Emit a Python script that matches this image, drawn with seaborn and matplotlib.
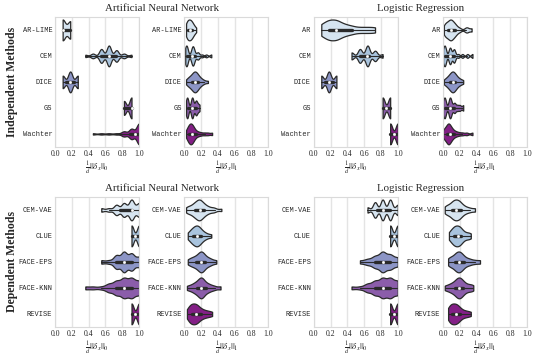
import numpy as np
import matplotlib
matplotlib.use("Agg")
import matplotlib.pyplot as plt
import seaborn as sns

# method names per block
ann_ind_names = ["AR-LIME", "CEM", "DICE", "GS", "Wachter"]
lr_ind_names = ["AR", "CEM", "DICE", "GS", "Wachter"]
dep_names = ["CEM-VAE", "CLUE", "FACE-EPS", "FACE-KNN", "REVISE"]
model_titles = ["Artificial Neural Network", "Logistic Regression"]
row_titles = ["Independent Methods", "Dependent Methods"]

# samples (l0 is fraction of changed features, d=11)
ann_l0_ind = [
    [0.09, 0.09, 0.09, 0.09, 0.09, 0.09, 0.18, 0.18, 0.18, 0.18, 0.18],
    [0.36, 0.45, 0.45, 0.55, 0.55, 0.55, 0.55, 0.55, 0.55, 0.64, 0.64, 0.64, 0.64, 0.64,
     0.64, 0.64, 0.64, 0.64, 0.73, 0.73, 0.73, 0.73, 0.73, 0.82, 0.82, 0.91],
    [0.09, 0.09, 0.09, 0.18, 0.18, 0.18, 0.18, 0.18, 0.27, 0.27, 0.27],
    [0.82, 0.82, 0.82, 0.82, 0.91, 0.91, 0.91, 0.91, 0.91, 0.91],
    [0.45, 0.55, 0.64, 0.73, 0.82, 0.82, 0.82, 0.82, 0.91, 0.91, 0.91, 0.91, 0.91, 0.91,
     0.91, 0.91, 1.0, 1.0, 1.0, 1.0, 1.0, 1.0, 1.0, 1.0, 1.0, 1.0, 1.0, 1.0, 1.0, 1.0, 1.0, 1.0],
]
ann_l1_ind = [
    [0.02, 0.02, 0.03, 0.03, 0.04, 0.04, 0.05, 0.05, 0.06, 0.06, 0.07, 0.07, 0.08, 0.08,
     0.09, 0.09, 0.10, 0.11, 0.12, 0.14],
    [0.01, 0.01, 0.02, 0.02, 0.02, 0.03, 0.03, 0.03, 0.04, 0.08, 0.09, 0.09, 0.10, 0.10,
     0.10, 0.11, 0.11, 0.12, 0.15, 0.16, 0.17, 0.21, 0.26, 0.32],
    [0.02, 0.04, 0.05, 0.06, 0.07, 0.08, 0.09, 0.10, 0.10, 0.11, 0.11, 0.12, 0.12, 0.13,
     0.13, 0.14, 0.14, 0.15, 0.15, 0.16, 0.17, 0.18, 0.19, 0.21, 0.23, 0.28],
    [0.02, 0.03, 0.03, 0.04, 0.04, 0.08, 0.09, 0.09, 0.10, 0.10, 0.13, 0.14, 0.14, 0.16, 0.18],
    [0.02, 0.03, 0.04, 0.05, 0.05, 0.06, 0.06, 0.07, 0.07, 0.08, 0.08, 0.09, 0.09, 0.10,
     0.10, 0.11, 0.12, 0.13, 0.15, 0.17, 0.20, 0.24, 0.28, 0.33],
]
lr_l0_ind = [
    [0.09, 0.09, 0.09, 0.09, 0.18, 0.18, 0.18, 0.18, 0.18, 0.18, 0.18, 0.27, 0.27, 0.27,
     0.27, 0.27, 0.27, 0.27, 0.36, 0.36, 0.36, 0.36, 0.45, 0.45, 0.45, 0.55, 0.55, 0.64,
     0.64, 0.73, 0.73],
    [0.45, 0.45, 0.55, 0.55, 0.55, 0.55, 0.64, 0.64, 0.64, 0.64, 0.64, 0.64, 0.73, 0.73, 0.73, 0.82],
    [0.09, 0.09, 0.09, 0.18, 0.18, 0.18, 0.18, 0.18, 0.27, 0.27, 0.27],
    [0.82, 0.82, 0.82, 0.82, 0.82, 0.91, 0.91, 0.91, 0.91, 0.91],
    [0.91, 0.91, 0.91, 0.91, 0.91, 1.0, 1.0, 1.0, 1.0, 1.0],
]
lr_l1_ind = [
    [0.01, 0.02, 0.03, 0.04, 0.05, 0.06, 0.07, 0.08, 0.08, 0.09, 0.10, 0.10, 0.11, 0.12,
     0.13, 0.14, 0.15, 0.17, 0.20, 0.27, 0.29, 0.34],
    [0.00, 0.01, 0.01, 0.02, 0.02, 0.03, 0.03, 0.07, 0.08, 0.08, 0.09, 0.09, 0.12, 0.13,
     0.13, 0.14, 0.18, 0.23, 0.29, 0.35],
    [0.01, 0.03, 0.05, 0.06, 0.07, 0.08, 0.09, 0.10, 0.10, 0.11, 0.11, 0.12, 0.12, 0.13,
     0.13, 0.14, 0.15, 0.16, 0.17, 0.19, 0.21, 0.24],
    [0.00, 0.01, 0.02, 0.02, 0.03, 0.07, 0.08, 0.08, 0.09, 0.10, 0.13, 0.14, 0.17, 0.20, 0.24],
    [0.00, 0.01, 0.02, 0.03, 0.04, 0.05, 0.05, 0.06, 0.06, 0.07, 0.07, 0.08, 0.08, 0.09,
     0.10, 0.11, 0.12, 0.14, 0.16, 0.19, 0.23, 0.28, 0.35],
]
ann_l0_dep = [
    [0.55, 0.64, 0.73, 0.73, 0.73, 0.82, 0.82, 0.82, 0.82, 0.91, 0.91, 0.91, 0.91, 0.91, 0.91,
     1.0, 1.0, 1.0, 1.0],
    [0.91, 0.91, 0.91, 0.91, 0.91, 1.0, 1.0, 1.0, 1.0, 1.0],
    [0.55, 0.64, 0.73, 0.73, 0.73, 0.73, 0.82, 0.82, 0.82, 0.82, 0.82, 0.82,
     0.91, 0.91, 0.91, 0.91, 0.91, 1.0, 1.0, 1.0],
    [0.36, 0.45, 0.55, 0.64, 0.64, 0.64, 0.73, 0.73, 0.73, 0.73, 0.73, 0.82, 0.82, 0.82, 0.82,
     0.82, 0.82, 0.82, 0.91, 0.91, 0.91, 0.91, 0.91, 0.91, 0.91, 1.0, 1.0, 1.0, 1.0, 1.0],
    [0.91, 0.91, 0.91, 0.91, 0.91, 1.0, 1.0, 1.0, 1.0, 1.0],
]
ann_l1_dep = [
    [0.02, 0.04, 0.06, 0.08, 0.10, 0.11, 0.12, 0.13, 0.14, 0.15, 0.16, 0.17, 0.17, 0.18,
     0.18, 0.19, 0.20, 0.21, 0.22, 0.23, 0.24, 0.26, 0.28, 0.30, 0.34, 0.36, 0.44],
    [0.04, 0.06, 0.08, 0.09, 0.10, 0.11, 0.12, 0.13, 0.14, 0.15, 0.15, 0.16, 0.17, 0.18,
     0.19, 0.20, 0.22, 0.24, 0.27, 0.32],
    [0.04, 0.07, 0.09, 0.11, 0.13, 0.14, 0.16, 0.17, 0.18, 0.19, 0.20, 0.20, 0.21, 0.22,
     0.23, 0.24, 0.26, 0.28, 0.30, 0.33, 0.38],
    [0.03, 0.07, 0.10, 0.12, 0.14, 0.15, 0.17, 0.18, 0.19, 0.20, 0.20, 0.21, 0.22, 0.23,
     0.25, 0.27, 0.29, 0.32, 0.36, 0.43],
    [0.03, 0.05, 0.06, 0.07, 0.08, 0.09, 0.10, 0.11, 0.12, 0.13, 0.14, 0.15, 0.16, 0.17,
     0.19, 0.21, 0.23, 0.26, 0.29, 0.33],
]
lr_l0_dep = [
    [0.64, 0.73, 0.73, 0.73, 0.82, 0.82, 0.82, 0.82, 0.91, 0.91, 0.91, 0.91, 1.0, 1.0],
    [0.91, 0.91, 0.91, 0.91, 0.91, 1.0, 1.0, 1.0, 1.0, 1.0],
    [0.55, 0.64, 0.64, 0.73, 0.73, 0.73, 0.73, 0.82, 0.82, 0.82, 0.82, 0.82, 0.82, 0.82,
     0.91, 0.91, 0.91, 0.91, 0.91, 1.0, 1.0, 1.0],
    [0.45, 0.55, 0.64, 0.64, 0.64, 0.73, 0.73, 0.73, 0.73, 0.73, 0.82, 0.82, 0.82, 0.82,
     0.82, 0.82, 0.82, 0.91, 0.91, 0.91, 0.91, 0.91, 0.91, 0.91, 1.0, 1.0, 1.0, 1.0, 1.0],
    [0.91, 0.91, 0.91, 0.91, 0.91, 1.0, 1.0, 1.0, 1.0, 1.0],
]
lr_l1_dep = [
    [0.02, 0.04, 0.06, 0.08, 0.10, 0.11, 0.12, 0.13, 0.14, 0.15, 0.16, 0.17, 0.18, 0.19,
     0.20, 0.21, 0.23, 0.25, 0.28, 0.32, 0.38],
    [0.07, 0.09, 0.11, 0.12, 0.13, 0.14, 0.15, 0.16, 0.17, 0.18, 0.19, 0.20, 0.21, 0.22,
     0.24, 0.27, 0.30, 0.33],
    [0.06, 0.08, 0.10, 0.12, 0.14, 0.15, 0.16, 0.17, 0.18, 0.19, 0.20, 0.21, 0.22, 0.23,
     0.25, 0.27, 0.30, 0.33, 0.38, 0.44],
    [0.02, 0.06, 0.09, 0.11, 0.13, 0.15, 0.16, 0.17, 0.18, 0.19, 0.20, 0.21, 0.22, 0.23,
     0.25, 0.27, 0.30, 0.33, 0.36],
    [0.06, 0.07, 0.08, 0.09, 0.10, 0.11, 0.12, 0.13, 0.14, 0.15, 0.16, 0.17, 0.18, 0.19,
     0.21, 0.23, 0.26, 0.29, 0.33],
]

sns.set_theme(style="whitegrid")
plt.rcParams["font.family"] = ["Liberation Serif", "DejaVu Serif"]
plt.rcParams["mathtext.fontset"] = "stix"
plt.rcParams["grid.color"] = "#e4e4e4"
plt.rcParams["axes.edgecolor"] = "#dadada"

pal = sns.color_palette("BuPu", 5)
l0_label = r"$\frac{1}{d}||\delta_x||_0$"
l1_label = r"$\frac{1}{d}||\delta_x||_1$"

fig, axes = plt.subplots(2, 4, figsize=(5.4, 3.6), dpi=100)
plt.subplots_adjust(left=0.102, right=0.976, top=0.953, bottom=0.092, wspace=0.54, hspace=0.385)

# kernel widths (in x units) for each violin
panels = [
    (0, 0, ann_ind_names, ann_l0_ind, l0_label, [0.03, 0.025, 0.025, 0.024, 0.03]),
    (0, 1, ann_ind_names, ann_l1_ind, l1_label, [0.02, 0.015, 0.025, 0.013, 0.02]),
    (0, 2, lr_ind_names, lr_l0_ind, l0_label, [0.055, 0.025, 0.025, 0.024, 0.024]),
    (0, 3, lr_ind_names, lr_l1_ind, l1_label, [0.022, 0.014, 0.028, 0.014, 0.02]),
    (1, 0, dep_names, ann_l0_dep, l0_label, [0.03, 0.024, 0.035, 0.04, 0.024]),
    (1, 1, dep_names, ann_l1_dep, l1_label, [0.03, 0.03, 0.03, 0.03, 0.03]),
    (1, 2, dep_names, lr_l0_dep, l0_label, [0.025, 0.024, 0.04, 0.04, 0.024]),
    (1, 3, dep_names, lr_l1_dep, l1_label, [0.03, 0.03, 0.03, 0.03, 0.03]),
]

for r, c, names, samples, xlab, bws in panels:
    ax = axes[r, c]
    for i, vals in enumerate(samples):
        sns.violinplot(x=vals, y=[names[i]] * len(vals), order=names, orient="y", ax=ax,
                       color=pal[i], saturation=1, cut=0, density_norm="width", width=0.8,
                       inner="box", linewidth=0.9, linecolor="#2a2a2a",
                       bw_method=bws[i] / np.std(vals, ddof=1),
                       inner_kws=dict(box_width=2.4, whis_width=0.8, marker="o",
                                      markersize=1.6))
    ax.set_xlim(0, 1.0)
    ax.set_xticks([0.0, 0.2, 0.4, 0.6, 0.8, 1.0])
    ax.set_xticklabels(["0.0", "0.2", "0.4", "0.6", "0.8", "1.0"], fontsize=5.6)
    ax.tick_params(axis="y", labelsize=5, pad=2, length=0)
    ax.tick_params(axis="x", pad=2, length=0)
    for lab in ax.get_yticklabels():
        lab.set_family("Liberation Mono")
    ax.set_xlabel(xlab, fontsize=6.5, labelpad=1)
    ax.set_ylabel("")
    ax.grid(axis="y", visible=False)
    for sp in ax.spines.values():
        sp.set_linewidth(0.8)

for r in range(2):
    for m in range(2):
        p0 = axes[r, 2 * m].get_position()
        p1 = axes[r, 2 * m + 1].get_position()
        fig.text((p0.x0 + p1.x1) / 2, p0.y1 + 0.01, model_titles[m],
                 ha="center", va="bottom", fontsize=7.8)
    p = axes[r, 0].get_position()
    fig.text(0.022, (p.y0 + p.y1) / 2, row_titles[r], rotation=90,
             ha="center", va="center", fontsize=8.5, fontweight="bold")

fig.savefig("out.png", dpi=100)
